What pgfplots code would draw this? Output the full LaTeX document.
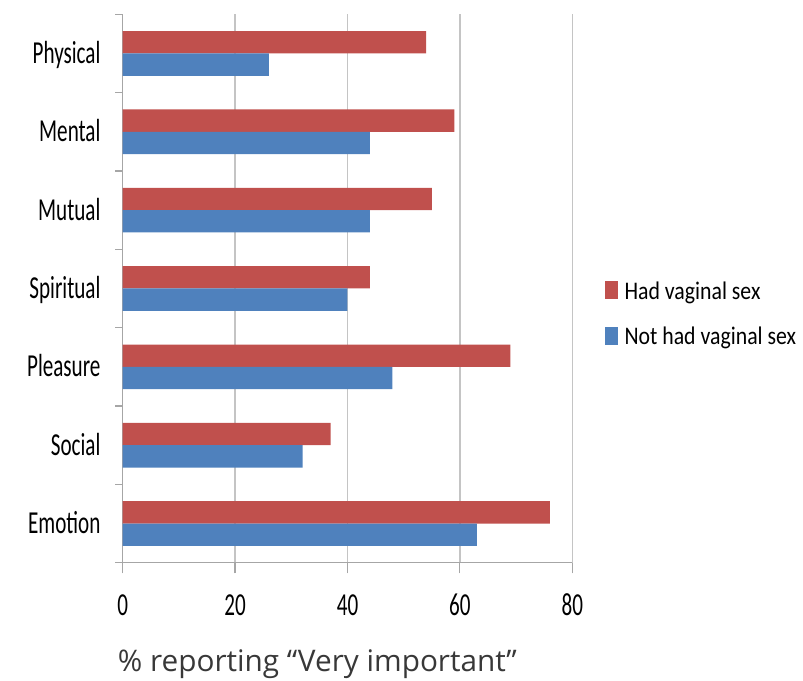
\documentclass[border=0pt]{standalone}
\usepackage{fontspec}
\usepackage{pgfplots}
\usepackage{pgfplotstable}
\pgfplotsset{compat=1.18}

% Narrow Calibri-like faces for the chart text, a wider sans for the axis title
\newfontfamily\axisfont[FakeStretch=0.66]{Carlito}
\newfontfamily\legfont[FakeStretch=0.86]{Carlito}
\newfontfamily\labfont{Open Sans}

\definecolor{barred}{HTML}{C0504D}
\definecolor{barblue}{HTML}{4F81BD}
\definecolor{gridgray}{HTML}{C4C4C4}
\definecolor{axisgray}{HTML}{A6A6A6}
\definecolor{labelgray}{HTML}{383838}

% Share reporting each reason as "very important"
\pgfplotstableread{
idx cat       had nothad
0   Emotion   76  63
1   Social    37  32
2   Pleasure  69  48
3   Spiritual 44  40
4   Mutual    55  44
5   Mental    59  44
6   Physical  54  26
}\reasons

\begin{document}
\begin{tikzpicture}
\useasboundingbox (0,0) rectangle (602.25pt,510.75pt);
\begin{axis}[
  at={(92.025pt,88.725pt)}, anchor=south west,
  scale only axis, width=337.2pt, height=411.3pt,
  xbar, bar width=0.285,
  xmin=0, xmax=80, ymin=-0.5, ymax=6.5,
  axis x line*=bottom, axis y line*=left,
  axis line style={axisgray, line width=0.9pt},
  xtick={0,20,40,60,80},
  ytick={0,...,6},
  yticklabels={Emotion,Social,Pleasure,Spiritual,Mutual,Mental,Physical},
  minor ytick={-0.5,0.5,...,6.5},
  tick align=outside,
  major tick length=8pt, minor tick length=5.5pt,
  every tick/.append style={axisgray, line width=0.9pt},
  every major y tick/.append style={draw=none},
  xmajorgrids,
  major grid style={gridgray, line width=1.1pt},
  /pgf/number format/assume math mode=true,
  ticklabel style={font=\axisfont\fontsize{24pt}{24pt}\selectfont,
    inner sep=0pt, text height=15.2pt, text depth=0pt},
  yticklabel style={anchor=east, xshift=-8.5pt},
  xticklabel style={anchor=north, yshift=-16.2pt},
  xlabel={\% reporting “Very important”},
  xlabel style={font=\labfont\fontsize{22.3pt}{22.3pt}\selectfont, text=labelgray,
    at={(axis description cs:-0.0111,0)}, anchor=base west,
    yshift=-81.75pt, inner sep=0pt},
  legend cell align=left,
  legend image code/.code={\fill[#1] (0pt,-6.1pt) rectangle (9.5pt,7.4pt);},
  legend style={at={(1.0727,0.5137)}, anchor=north west, draw=none, fill=none,
    inner sep=0pt, row sep=20.5pt, column sep=5pt,
    font=\legfont\fontsize{19pt}{19pt}\selectfont,
    nodes={inner sep=0pt, text height=12.2pt, text depth=0pt}},
]
\addplot[fill=barred, draw=none, bar shift=0.1425]
  table[x=had, y=idx] {\reasons};
\addplot[fill=barblue, draw=none, bar shift=-0.1425]
  table[x=nothad, y=idx] {\reasons};
\legend{Had vaginal sex, Not had vaginal sex}
\end{axis}
\end{tikzpicture}
\end{document}
